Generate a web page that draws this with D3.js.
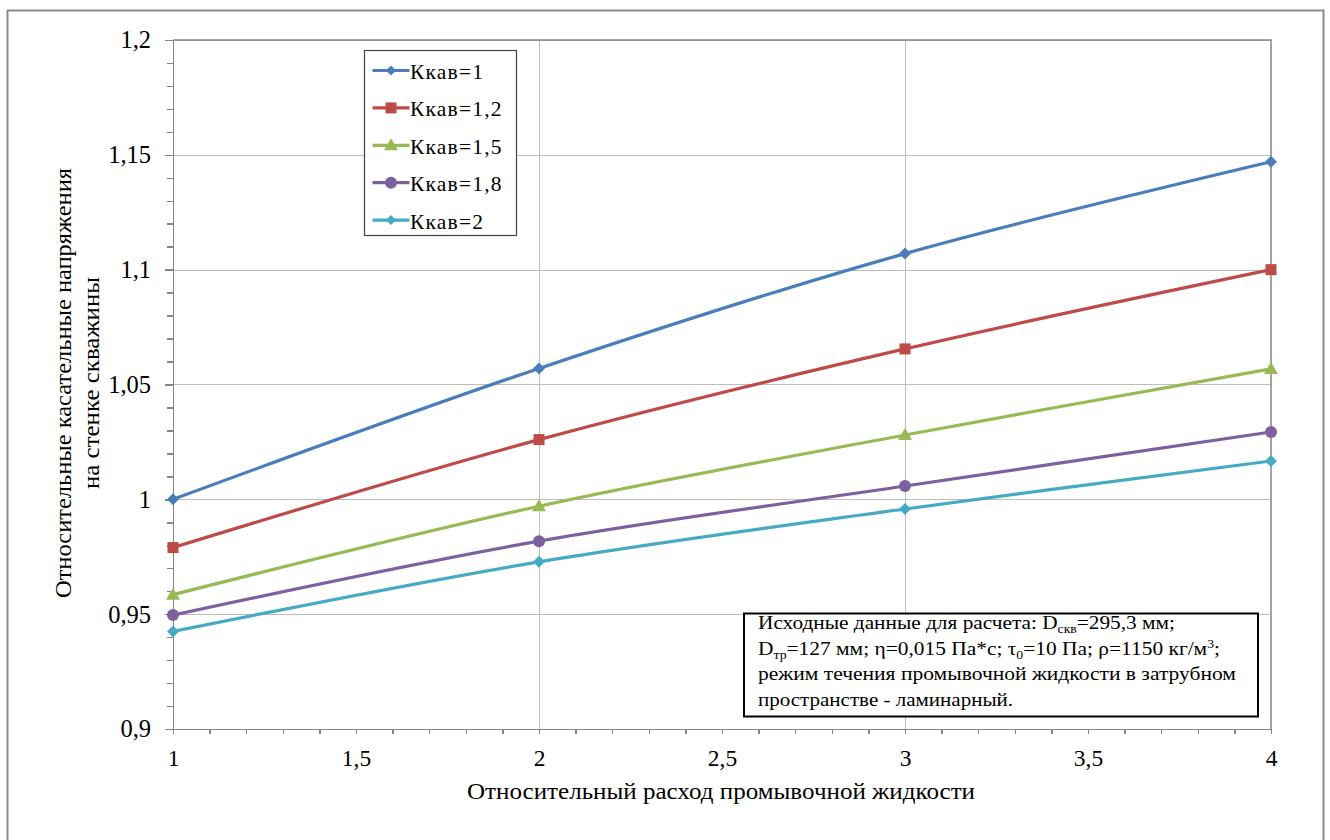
<!DOCTYPE html>
<html lang="ru">
<head>
<meta charset="UTF-8">
<title>Касательные напряжения</title>
<script src="https://d3js.org/d3.v7.min.js"></script>
<style>
  body { margin: 0; background: #fff; }
  .grid line { stroke: #bdbdbd; stroke-width: 1; shape-rendering: crispEdges; }
  .axis path, .axis line { stroke: #868686; stroke-width: 1.5; shape-rendering: crispEdges; }
</style>
</head>
<body>
<svg id="chart" width="1330" height="840"></svg>
<script>
  // data
  const xValues = [1, 2, 3, 4];
  const seriesNames = ["Ккав=1", "Ккав=1,2", "Ккав=1,5", "Ккав=1,8", "Ккав=2"];
  const k10 = [1.000, 1.057, 1.107, 1.147];
  const k12 = [0.979, 1.026, 1.0655, 1.100];
  const k15 = [0.9585, 0.997, 1.028, 1.0568];
  const k18 = [0.9496, 0.9818, 1.0058, 1.0293];
  const k20 = [0.9425, 0.9728, 0.9958, 1.0167];
  const xTicks = [1, 1.5, 2, 2.5, 3, 3.5, 4];
  const yTicks = [0.9, 0.95, 1, 1.05, 1.1, 1.15, 1.2];

  const FONT = "'Liberation Serif', 'DejaVu Serif', serif";
  const colors = ["#4a7ebb", "#be4b48", "#98b954", "#7d60a0", "#46aac5"];
  const markers = ["diamond", "square", "triangle", "circle", "diamond"];
  const allSeries = [k10, k12, k15, k18, k20];

  const svg = d3.select("#chart");
  const plotL = 173, plotR = 1271, plotT = 40, plotB = 729;

  const x = d3.scaleLinear().domain([1, 4]).range([plotL, plotR]);
  const y = d3.scaleLinear().domain([0.9, 1.2]).range([plotB, plotT]);
  const fmt = d => String(d).replace(".", ",");

  // outer frame
  svg.append("rect")
    .attr("x", 7.5).attr("y", 10.5).attr("width", 1316).attr("height", 860)
    .attr("fill", "#fff").attr("stroke", "#8a8a8a").attr("stroke-width", 2);

  // grid
  const grid = svg.append("g").attr("class", "grid");
  grid.selectAll(".gy").data(yTicks.slice(1)).enter().append("line")
    .attr("x1", plotL).attr("x2", plotR)
    .attr("y1", d => Math.round(y(d)) + 0.5).attr("y2", d => Math.round(y(d)) + 0.5);
  grid.selectAll(".gx").data([2, 3]).enter().append("line")
    .attr("y1", plotT).attr("y2", plotB)
    .attr("x1", d => Math.round(x(d)) + 0.5).attr("x2", d => Math.round(x(d)) + 0.5);

  // right and top borders of the plot area
  svg.append("path")
    .attr("d", `M${plotL},${plotT}H${plotR}V${plotB}`)
    .attr("fill", "none").attr("stroke", "#868686").attr("stroke-width", 1.5);

  // minor ticks
  const yMinor = d3.range(0.9, 1.2001, 0.01);
  svg.append("g").attr("class", "axis")
    .attr("transform", `translate(${plotL},0)`)
    .call(d3.axisLeft(y).tickValues(yMinor).tickSize(6).tickFormat(""))
    .select(".domain").remove();
  const xMinor = d3.range(1, 4.0001, 0.1);
  svg.append("g").attr("class", "axis")
    .attr("transform", `translate(0,${plotB})`)
    .call(d3.axisBottom(x).tickValues(xMinor).tickSize(5).tickFormat(""))
    .select(".domain").remove();

  // major axes
  svg.append("g").attr("class", "axis")
    .attr("transform", `translate(${plotL},0)`)
    .call(d3.axisLeft(y).tickValues(yTicks).tickSize(8).tickSizeOuter(0).tickPadding(14).tickFormat(fmt))
    .selectAll("text").attr("font-size", 24.5);
  svg.append("g").attr("class", "axis")
    .attr("transform", `translate(0,${plotB})`)
    .call(d3.axisBottom(x).tickValues(xTicks).tickSize(0).tickSizeOuter(0).tickPadding(20).tickFormat(fmt))
    .selectAll("text").attr("font-size", 23.5);

  // axis titles
  svg.append("text")
    .attr("x", 721).attr("y", 799)
    .attr("text-anchor", "middle").attr("font-size", 23)
    .attr("textLength", 508).attr("lengthAdjust", "spacingAndGlyphs")
    .text("Относительный расход промывочной жидкости");
  const yTitle = svg.append("g").attr("transform", "translate(0,383) rotate(-90)");
  yTitle.append("text").attr("x", 0).attr("y", 71)
    .attr("text-anchor", "middle").attr("font-size", 23)
    .attr("textLength", 430).attr("lengthAdjust", "spacingAndGlyphs")
    .text("Относительные касательные напряжения");
  yTitle.append("text").attr("x", 0).attr("y", 99)
    .attr("text-anchor", "middle").attr("font-size", 23)
    .attr("textLength", 212).attr("lengthAdjust", "spacingAndGlyphs")
    .text("на стенке скважины");

  // markers
  function drawMarker(g, type, color, size) {
    if (type === "diamond") {
      g.append("path").attr("d", `M0,${-size}L${size},0L0,${size}L${-size},0Z`).attr("fill", color);
    } else if (type === "square") {
      g.append("rect").attr("x", -5.5).attr("y", -5.5).attr("width", 11).attr("height", 11).attr("fill", color);
    } else if (type === "triangle") {
      g.append("path").attr("d", "M0,-7L7,5L-7,5Z").attr("fill", color);
    } else {
      g.append("circle").attr("r", 6).attr("fill", color);
    }
  }

  const line = d3.line()
    .x((d, i) => x(xValues[i]))
    .y(d => y(d))
    .curve(d3.curveCatmullRom.alpha(0.5));

  allSeries.forEach((s, si) => {
    svg.append("path")
      .datum(s)
      .attr("d", line)
      .attr("fill", "none")
      .attr("stroke", colors[si])
      .attr("stroke-width", 3.2);
    s.forEach((v, i) => {
      const g = svg.append("g").attr("transform", `translate(${x(xValues[i])},${y(v)})`);
      drawMarker(g, markers[si], colors[si], 6);
    });
  });

  // legend
  const lg = svg.append("g");
  lg.append("rect")
    .attr("x", 364.5).attr("y", 50.5).attr("width", 152).attr("height", 185)
    .attr("fill", "#fff").attr("stroke", "#444").attr("stroke-width", 1.2);
  seriesNames.forEach((name, i) => {
    const cy = 70.5 + i * 37.4;
    lg.append("line")
      .attr("x1", 372.5).attr("x2", 409.5).attr("y1", cy).attr("y2", cy)
      .attr("stroke", colors[i]).attr("stroke-width", 3.2);
    const g = lg.append("g").attr("transform", `translate(391,${cy})`);
    drawMarker(g, markers[i], colors[i], 5);
    lg.append("text")
      .attr("x", 410).attr("y", cy + 8.5)
      .attr("font-size", 21.5)
      .attr("letter-spacing", 1.2)
      .text(name);
  });

  // annotation box
  const ann = svg.append("g");
  ann.append("rect")
    .attr("x", 744).attr("y", 613.5).attr("width", 514).attr("height", 103)
    .attr("fill", "#fff").attr("stroke", "#000").attr("stroke-width", 2);
  const t1 = ann.append("text").attr("x", 758).attr("y", 629).attr("font-size", 19.5)
    .attr("textLength", 417).attr("lengthAdjust", "spacingAndGlyphs");
  t1.append("tspan").text("Исходные данные для расчета: D");
  t1.append("tspan").attr("dy", 4).attr("font-size", 12.5).text("скв");
  t1.append("tspan").attr("dy", -4).text("=295,3 мм;");
  const t2 = ann.append("text").attr("x", 758).attr("y", 654.5).attr("font-size", 19.5)
    .attr("textLength", 462).attr("lengthAdjust", "spacingAndGlyphs");
  t2.append("tspan").text("D");
  t2.append("tspan").attr("dy", 4).attr("font-size", 12.5).text("тр");
  t2.append("tspan").attr("dy", -4).text("=127 мм; η=0,015 Па*с; τ");
  t2.append("tspan").attr("dy", 4).attr("font-size", 12.5).text("0");
  t2.append("tspan").attr("dy", -4).text("=10 Па; ρ=1150 кг/м");
  t2.append("tspan").attr("dy", -7).attr("font-size", 12.5).text("3");
  t2.append("tspan").attr("dy", 7).text(";");
  ann.append("text").attr("x", 758).attr("y", 680).attr("font-size", 19.5)
    .attr("textLength", 478).attr("lengthAdjust", "spacingAndGlyphs")
    .text("режим течения промывочной жидкости в затрубном");
  ann.append("text").attr("x", 758).attr("y", 705.5).attr("font-size", 19.5)
    .attr("textLength", 255).attr("lengthAdjust", "spacingAndGlyphs")
    .text("пространстве - ламинарный.");

  // all text in serif, like the original
  svg.selectAll("text").attr("font-family", FONT).style("font-family", FONT).attr("fill", "#000");
</script>
</body>
</html>
